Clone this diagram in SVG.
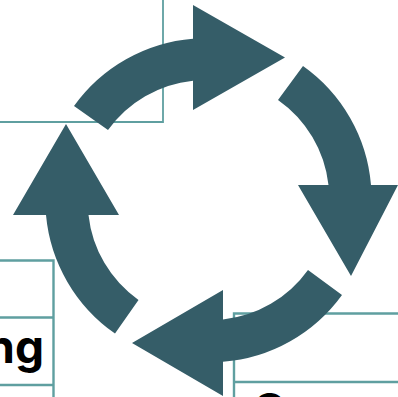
<svg xmlns="http://www.w3.org/2000/svg" width="398" height="397" viewBox="0 0 398 397">
<style>
.t{fill:none;stroke:#5f9fa0;stroke-width:2.4}
.a{fill:#355d68}
.l{font-family:Inter,"Liberation Sans",sans-serif;font-weight:700;font-size:46px;fill:#000}
</style>
<rect width="398" height="397" fill="#fff"/>
<g id="tables">
<path class="t" style="stroke-width:1.8" d="M163 0V122H0"/>
<path class="t" d="M0 260.500H53.500V397M0 317.500H53.500M0 385H53.500"/>
<path class="t" d="M398 313.500H234V397M234 382H398"/>
</g>
<g id="labels">
<text class="l" x="44" y="363" text-anchor="end">ng</text>
<text class="l" x="252" y="427">C</text>
</g>
<g id="connectors">
<path class="a" d="M74 106A162.500 162.500 0 0 1 193 38.700V5L285 57.500L193 110V80.700A120 120 0 0 0 108 130Z"/>
<path class="a" d="M303 66A162.500 162.500 0 0 1 371 185H398L351 276L298 185H328.500A120 120 0 0 0 278 100Z"/>
<path class="a" d="M342 295A162.500 162.500 0 0 1 223 361.800V396L132 343L223 290V319.500A120 120 0 0 0 308 270Z"/>
<path class="a" d="M115 333.500A162.500 162.500 0 0 1 46 215H13L66 124L119 215H88.500A120 120 0 0 0 138.500 300Z"/>
</g>
</svg>
